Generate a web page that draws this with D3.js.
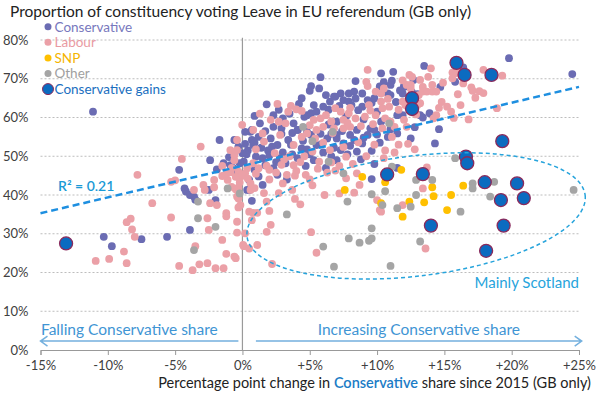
<!DOCTYPE html>
<html>
<head>
<meta charset="utf-8">
<script src="https://cdn.jsdelivr.net/npm/d3@7"></script>
<style>
  body { margin: 0; background: #fff; }
  text { font-family: Lato, "Open Sans", sans-serif; }
</style>
</head>
<body>
<div id="chart"></div>
<script>
const width = 605;
const height = 397;

// [change in Con share (pp), Leave share (%)]
const conservative = [
  [-11.1,61.5],[-10.3,29.2],[-9.7,26.8],[-7.5,28.6],[-5.6,29.2],[-3.9,31.0],[-4.7,46.5],[-4.3,41.7],[-4.2,40.9],[-3.9,40.0],
  [-3.6,39.6],[-3.5,38.8],[-2.4,49.0],[-1.7,54.2],[-1.4,48.2],[-0.9,47.7],[-0.6,54.2],[-0.3,52.5],[-2.0,38.7],[-2.5,41.3],
  [-0.4,46.0],[0.35,41.3],[0.2,56.3],[0.6,56.3],[0.7,54.2],[0.8,52.9],[2.1,54.6],[2.6,52.9],[2.9,57.2],[3.4,54.2],
  [4.1,56.8],[4.8,56.3],[5.5,52.9],[6.3,54.6],[7.0,55.5],[0.1,48.6],[1.0,49.9],[1.5,49.5],[1.7,47.7],[2.3,46.9],
  [2.6,45.2],[2.8,49.5],[4.1,49.5],[0.5,43.9],[1.5,42.6],[0.7,38.5],[0.5,41.3],[7.0,54.6],[7.5,53.3],[8.0,55.5],
  [8.3,54.2],[7.3,51.6],[8.5,56.8],[8.9,53.3],[9.6,51.4],[9.8,56.8],[11.5,55.9],[12.5,54.6],[14.3,53.3],[9.6,44.1],
  [11.5,47.0],[19.8,75.3],[24.5,71.2],[16.4,72.9],[15.8,69.2],[13.9,61.1],[13.4,60.0],[13.5,73.3],[12.7,69.7],[12.0,67.9],
  [11.9,66.2],[14.7,67.9],[11.9,60.6],[10.3,71.4],[11.2,71.8],[8.4,69.4],[10.5,69.1],[11.1,69.5],[11.0,68.4],[12.0,68.1],
  [9.8,65.0],[10.8,66.2],[11.0,65.8],[8.9,66.2],[8.3,66.7],[7.9,66.2],[7.3,66.2],[6.9,65.4],[7.5,64.5],[7.9,64.1],
  [7.0,58.9],[8.6,61.9],[8.9,62.8],[9.5,57.2],[10.3,58.9],[11.5,60.6],[13.2,60.6],[5.8,70.4],[5.1,68.1],[5.0,66.9],
  [6.2,65.8],[6.5,64.1],[6.8,65.4],[5.3,63.2],[4.8,60.6],[5.1,61.1],[5.5,61.5],[1.8,63.4],[0.9,60.4],[2.3,60.6],
  [4.6,60.2],[0.7,56.8],[2.3,57.6],[3.8,58.5],[4.1,56.8],[1.2,55.0],[1.9,51.5],[3.0,51.0],[3.6,53.0],[4.4,52.0],
  [5.0,50.5],[5.8,55.8],[6.0,51.0],[6.8,52.2],[3.2,48.2],[2.0,50.2],[0.4,51.5],[0.9,46.5],[5.3,49.0],[4.7,47.5],
  [6.6,50.0],[7.8,50.5],[8.5,51.2],[9.0,54.8],[10.2,53.5],[10.8,55.0],[3.3,44.0],[1.2,44.8],[6.2,47.0],[9.0,59.5],
  [6.4,58.2],[7.7,60.3],[10.0,61.5],[12.3,62.8],[11.4,64.0],[9.6,63.8],[8.1,63.2],[6.0,62.8],[3.0,59.8],[2.7,62.0],
  [1.3,58.5],[4.2,63.5],[12.8,57.5],[14.6,57.0],[13.0,66.0],[0.3,50.5],[0.9,53.5],[1.4,52.2],[2.2,52.5],[2.9,55.8],
  [3.7,56.0],[4.5,54.0],[5.1,55.5],[5.9,53.2],[6.6,55.8],[7.4,56.5],[8.0,52.7],[9.3,55.5],[10.0,55.6],[11.0,57.0],
  [3.5,61.0],[4.4,65.0],[5.7,67.5],[6.4,62.0],[7.2,63.0],[8.4,64.9],[9.3,64.5],[10.2,68.0],[11.7,67.0],[12.6,66.5],
  [-0.2,48.2],[-0.7,47.0],[0.2,53.2],[1.7,56.5],[2.5,48.5],[3.7,50.5],[4.8,51.8],[7.0,49.0],[8.8,49.2],[9.8,48.0],
  [-1.9,46.6],[-1.0,49.8],[0.0,50.8]
];

const labour = [
  [-10.9,23.0],[-9.9,23.5],[-8.8,25.4],[-8.6,22.4],[-8.6,33.0],[-8.3,33.9],[-8.2,31.1],[-8.0,29.2],[-7.8,45.2],[-6.7,37.9],
  [-5.3,34.2],[-5.3,43.4],[-5.0,43.8],[-4.7,21.7],[-4.5,49.3],[-3.7,20.6],[-3.5,26.8],[-3.2,22.1],[-3.1,52.5],[-3.6,41.3],
  [-2.9,42.6],[-2.8,41.3],[-2.6,22.4],[-2.6,34.0],[-2.5,31.0],[-2.4,37.9],[-2.1,42.0],[-2.0,21.1],[-1.9,37.4],[-2.1,43.9],
  [-1.5,28.4],[-1.4,21.1],[-1.2,35.3],[-1.2,34.5],[-1.2,24.8],[-0.6,24.1],[-0.4,30.3],[-0.3,36.8],[-0.3,39.6],[-0.3,41.9],
  [-0.15,44.7],[-0.02,58.1],[-0.4,54.2],[-0.9,51.6],[-0.6,50.3],[-1.1,43.9],[-1.2,45.4],[-1.5,44.9],[-0.9,45.9],[-1.5,47.5],
  [0.05,27.1],[-0.4,51.6],[1.6,53.8],[1.5,55.9],[2.8,55.5],[3.8,52.9],[4.4,55.0],[5.7,48.6],[6.5,51.6],[-0.6,49.0],
  [0.35,46.9],[0.8,48.2],[1.2,46.9],[2.0,46.5],[3.3,45.2],[3.8,47.7],[4.7,45.2],[-0.3,46.0],[0.2,45.6],[-0.2,44.3],
  [0.6,43.0],[0.6,41.3],[-0.8,42.1],[-0.5,41.5],[-0.4,39.6],[-0.15,37.4],[1.8,38.3],[3.7,41.3],[-0.5,44.7],[0.0,45.2],
  [-0.4,41.7],[-0.3,39.1],[0.5,35.7],[0.8,35.4],[1.1,35.4],[2.0,35.9],[0.7,33.5],[-0.4,33.1],[2.1,32.3],[1.8,30.5],
  [0.2,30.1],[0.1,26.8],[0.5,26.2],[1.1,27.1],[-0.5,23.7],[2.2,22.2],[5.1,30.4],[5.5,25.1],[6.6,48.4],[7.7,44.3],
  [8.5,45.6],[8.7,42.6],[8.3,40.6],[7.2,40.4],[10.0,38.7],[11.9,37.4],[13.4,41.7],[6.8,57.2],[7.5,57.2],[10.4,57.2],
  [11.1,55.0],[7.7,49.9],[10.2,36.1],[10.3,35.7],[13.6,26.2],[13.7,47.1],[15.6,71.6],[15.8,71.4],[16.0,71.6],[16.4,68.8],
  [15.6,70.1],[17.9,72.3],[19.3,70.8],[17.0,67.8],[17.1,66.9],[17.6,66.8],[17.3,65.1],[18.9,62.4],[15.5,61.5],[15.7,59.9],
  [16.8,59.5],[14.4,60.6],[12.4,71.0],[12.6,70.5],[14.0,72.7],[13.2,69.7],[13.4,67.9],[12.2,68.4],[12.5,68.4],[14.1,68.4],
  [14.1,66.7],[14.4,66.7],[13.2,63.7],[13.0,63.2],[11.9,64.1],[12.1,63.2],[12.0,59.4],[12.2,57.6],[9.3,72.3],[9.2,69.2],
  [9.3,68.1],[9.9,66.7],[10.3,66.2],[10.5,67.5],[9.4,63.2],[10.3,64.1],[10.4,62.4],[10.9,62.8],[6.9,62.4],[7.3,61.5],
  [7.9,61.1],[7.5,59.4],[8.4,59.8],[8.0,57.6],[9.1,60.2],[9.9,60.6],[10.6,59.8],[11.0,58.9],[11.3,57.6],[12.5,67.5],
  [13.1,65.8],[13.4,66.7],[13.7,66.7],[14.2,59.8],[3.4,61.5],[4.0,62.1],[4.4,61.7],[2.1,59.4],[2.7,58.9],[3.2,58.5],
  [0.8,56.8],[5.3,59.4],[5.8,59.8],[6.2,60.6],[4.8,55.9],[5.5,56.8],[6.0,57.6],[2.4,50.8],[3.5,50.0],[4.3,48.5],
  [5.2,51.2],[6.0,53.5],[1.0,51.8],[2.9,47.8],[4.0,46.2],[5.0,44.0],[6.3,45.8],[7.2,47.5],[8.2,48.0],[9.2,50.0],
  [9.8,53.0],[10.6,51.5],[11.6,53.0],[12.8,51.8],[8.8,57.8],[6.7,56.0],[5.4,54.6],[2.0,44.0],[1.6,40.5],[3.0,43.0],
  [8.0,62.5],[9.7,58.3],[11.6,62.0],[12.9,60.8],[14.8,64.0],[15.2,62.8],[16.0,66.0],[17.9,66.3],[0.4,44.2],[1.0,45.5],
  [1.8,47.5],[2.5,45.8],[3.1,49.2],[3.9,45.0],[4.6,50.0],[5.6,46.8],[6.9,46.3],[7.5,52.4],[8.6,53.6],[10.5,49.5],
  [11.3,51.0],[12.3,53.2],[1.3,61.0],[2.6,63.5],[3.6,63.0],[5.0,58.0],[6.6,59.0],[7.8,58.6],[9.5,61.8],[10.8,64.8],
  [11.9,69.6],[13.8,70.5],[14.9,69.0],[14.6,62.5],[16.2,63.2],[-0.8,47.0],[-0.2,43.2],[0.9,41.8],[2.7,40.5],[3.9,39.0],
  [5.2,42.5],[6.1,40.0],[4.3,37.6]
];

const other = [
  [-3.6,25.8],[-3.3,38.3],[-3.3,34.0],[-2.0,31.8],[-1.1,41.7],[-0.2,40.4],[4.5,57.6],[5.2,53.9],[6.4,48.6],[6.7,56.3],
  [10.9,58.5],[7.5,45.6],[11.1,47.3],[10.6,41.0],[9.6,40.2],[7.8,38.3],[10.4,37.4],[11.5,36.6],[12.5,37.0],[12.9,43.9],
  [14.1,43.9],[12.9,40.0],[3.3,35.0],[6.0,26.7],[6.8,21.5],[7.9,28.8],[8.7,27.7],[9.4,28.2],[9.6,28.8],[9.6,31.4],
  [11.0,21.7],[13.2,28.0],[15.8,49.5],[17.1,43.0],[17.1,41.7],[18.7,43.4],[18.4,39.6],[24.6,41.3],[16.2,35.7]
];

const snp = [
  [8.9,44.7],[11.8,46.5],[10.6,43.3],[7.6,41.3],[10.3,37.9],[12.4,38.3],[13.5,38.1],[11.9,34.4],[14.1,42.0],[14.2,39.7],
  [16.4,42.4],[15.5,40.0],[15.2,36.1]
];

const conGains = [
  [-13.1,27.5],[15.9,74.1],[16.5,71.0],[18.5,71.0],[12.6,65.0],[12.6,62.2],[19.3,53.9],[16.6,49.9],[16.7,48.2],[13.4,45.4],
  [10.75,45.3],[18.0,43.3],[20.4,43.0],[19.2,38.7],[20.9,39.2],[14.0,32.1],[19.4,32.1],[18.1,25.6]
];

const xTicks = [-15, -10, -5, 0, 5, 10, 15, 20, 25];
const yTicks = [0, 10, 20, 30, 40, 50, 60, 70, 80];
const trend = [[-15, 35.3], [25, 67.9]];

const series = [
  { name: "Conservative", data: conservative, fill: "#6b6cb3", text: "#7778bd" },
  { name: "Labour", data: labour, fill: "#eba0a7", text: "#e99aa2" },
  { name: "SNP", data: snp, fill: "#ffc000", text: "#f5b400" },
  { name: "Other", data: other, fill: "#a5a5a5", text: "#a0a0a0" },
];

const svg = d3.select("#chart").append("svg")
  .attr("width", width)
  .attr("height", height);

const x = d3.scaleLinear().domain([-15, 25]).range([40.5, 579]);
const y = d3.scaleLinear().domain([0, 80]).range([350, 40]);

// grid
svg.append("g").selectAll("line")
  .data(yTicks.filter((d) => d > 0))
  .join("line")
  .attr("x1", x(-15)).attr("x2", x(25))
  .attr("y1", (d) => y(d)).attr("y2", (d) => y(d))
  .attr("stroke", "#bdbdbd")
  .attr("stroke-dasharray", "2,2");

// zero line
svg.append("line")
  .attr("x1", x(0)).attr("x2", x(0))
  .attr("y1", y(80.6)).attr("y2", y(0))
  .attr("stroke", "#9a9a9a")
  .attr("stroke-width", 1.2);

// axes
const ejeX = d3.axisBottom(x).tickValues(xTicks).tickSize(5).tickPadding(6)
  .tickFormat((d) => (d > 0 ? "+" : "") + d + "%");
const grupoX = svg.append("g").attr("transform", `translate(0, ${y(0)})`).call(ejeX);
grupoX.select(".domain").attr("stroke", "#999");
grupoX.selectAll(".tick line").attr("stroke", "#999");
grupoX.selectAll("text").attr("font-size", 13).attr("fill", "#404040")
  .style("font-family", "Lato, sans-serif");

const ejeY = d3.axisLeft(y).tickValues(yTicks).tickSize(0).tickPadding(12)
  .tickFormat((d) => d + "%");
const grupoY = svg.append("g").attr("transform", `translate(${x(-15)}, 0)`).call(ejeY);
grupoY.select(".domain").remove();
grupoY.selectAll("text").attr("font-size", 13).attr("fill", "#404040")
  .style("font-family", "Lato, sans-serif");

// points
series.forEach((s) => {
  svg.append("g").selectAll("circle")
    .data(s.data)
    .join("circle")
    .attr("cx", (d) => x(d[0]))
    .attr("cy", (d) => y(d[1]))
    .attr("r", 3.9)
    .attr("fill", s.fill);
});

svg.append("g").selectAll("circle")
  .data(conGains)
  .join("circle")
  .attr("cx", (d) => x(d[0]))
  .attr("cy", (d) => y(d[1]))
  .attr("r", 6.5)
  .attr("fill", "#0b6bc0")
  .attr("stroke", "#8a2a5c")
  .attr("stroke-width", 1.3);

// trend line
svg.append("path")
  .datum(trend)
  .attr("fill", "none")
  .attr("stroke", "#1e8fe0")
  .attr("stroke-width", 2.5)
  .attr("stroke-dasharray", "7,4")
  .attr("d", d3.line().x((d) => x(d[0])).y((d) => y(d[1])));

svg.append("text")
  .attr("x", x(-13.7)).attr("y", y(41))
  .attr("font-size", 14).attr("font-weight", 600)
  .attr("fill", "#1a9ad6")
  .text("R² = 0.21");

// Scotland ellipse
const cx = x(12.9), cy = y(34.6);
svg.append("ellipse")
  .attr("cx", cx).attr("cy", cy)
  .attr("rx", x(12.9 + 12.65) - cx)
  .attr("ry", cy - y(34.6 + 15.5))
  .attr("transform", `rotate(-7, ${cx}, ${cy})`)
  .attr("fill", "none")
  .attr("stroke", "#27a4dc")
  .attr("stroke-width", 1.5)
  .attr("stroke-dasharray", "4,3");

svg.append("text")
  .attr("x", x(25)).attr("y", y(16))
  .attr("text-anchor", "end")
  .attr("font-size", 15)
  .attr("fill", "#27a4dc")
  .text("Mainly Scotland");

// arrows
const arrowColor = "#74b0de";
const yArrow = y(2.3);
svg.append("path")
  .attr("d", `M${x(-0.3)},${yArrow}H${x(-15)}M${x(-15) + 7},${yArrow - 5}L${x(-15)},${yArrow}L${x(-15) + 7},${yArrow + 5}`)
  .attr("fill", "none").attr("stroke", arrowColor).attr("stroke-width", 1.5);
svg.append("path")
  .attr("d", `M${x(1.0)},${yArrow}H${x(25.2)}M${x(25.2) - 7},${yArrow - 5}L${x(25.2)},${yArrow}L${x(25.2) - 7},${yArrow + 5}`)
  .attr("fill", "none").attr("stroke", arrowColor).attr("stroke-width", 1.5);

svg.append("text")
  .attr("x", x(-8.4)).attr("y", y(4))
  .attr("text-anchor", "middle").attr("font-size", 15.5).attr("fill", "#3f95d4")
  .text("Falling Conservative share");
svg.append("text")
  .attr("x", x(13.1)).attr("y", y(4))
  .attr("text-anchor", "middle").attr("font-size", 15.5).attr("fill", "#3f95d4")
  .text("Increasing Conservative share");

// titles
svg.append("text")
  .attr("x", 10).attr("y", 17)
  .attr("font-size", 15.5).attr("fill", "#222")
  .text("Proportion of constituency voting Leave in EU referendum (GB only)");

const xt = svg.append("text")
  .attr("x", 591).attr("y", 388)
  .attr("text-anchor", "end")
  .attr("font-size", 14.5).attr("fill", "#222");
xt.append("tspan").text("Percentage point change in ");
xt.append("tspan").attr("fill", "#1b7cc6").attr("font-weight", 600).text("Conservative");
xt.append("tspan").text(" share since 2015 (GB only)");

// legend
const legendItems = series.map((s) => ({ name: s.name, fill: s.fill, text: s.text, r: 3.5 }))
  .concat([{ name: "Conservative gains", fill: "#0b6bc0", text: "#1a6fc0", r: 5.5 }]);
const legend = svg.append("g")
  .selectAll("g")
  .data(legendItems)
  .join("g")
  .attr("transform", (d, i) => `translate(48, ${26.7 + i * 15.6})`);
legend.append("circle")
  .attr("r", (d) => d.r)
  .attr("fill", (d) => d.fill)
  .attr("stroke", (d) => (d.r > 4 ? "#8a2a5c" : "none"));
legend.append("text")
  .attr("x", 6.5).attr("y", 4.8)
  .attr("font-size", 13.5)
  .attr("fill", (d) => d.text)
  .text((d) => d.name);
</script>
</body>
</html>
